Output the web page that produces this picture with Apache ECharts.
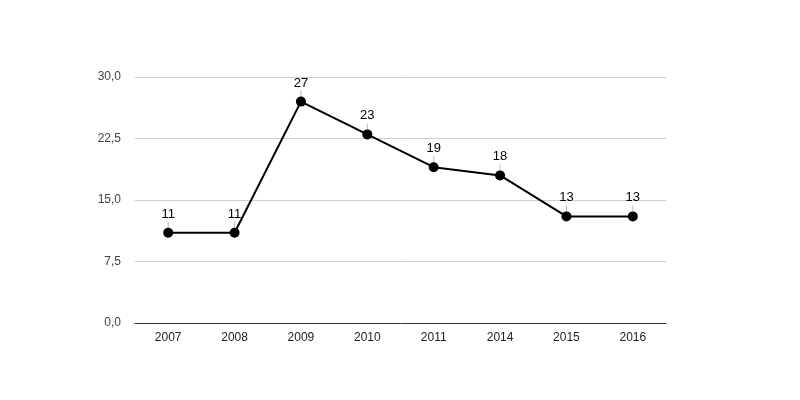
<!DOCTYPE html>
<html><head><meta charset="utf-8">
<script src="https://cdn.jsdelivr.net/npm/echarts@6/dist/echarts.min.js"></script>
<style>html,body{margin:0;padding:0;background:#fff}#c{width:800px;height:400px}</style>
</head><body><div id="c"></div>
<script>
const categories = ['2007','2008','2009','2010','2011','2014','2015','2016'];
const values = [11, 11, 27, 23, 19, 18, 13, 13];
const chart = echarts.init(document.getElementById('c'));
chart.setOption({
  animation: false,
  grid: {left: 135, right: 134, top: 77, bottom: 77},
  xAxis: {
    type: 'category', data: categories, boundaryGap: true,
    axisLine: {lineStyle: {color: '#333', width: 1}},
    axisTick: {show: false},
    axisLabel: {color: '#222', fontSize: 12, fontFamily: '"Liberation Sans", Arial, sans-serif', margin: 9}
  },
  yAxis: {
    type: 'value', min: 0, max: 30, interval: 7.5,
    axisLine: {show: false}, axisTick: {show: false},
    splitLine: {lineStyle: {color: '#cccccc'}},
    axisLabel: {color: '#444', fontSize: 12, fontFamily: '"Liberation Sans", Arial, sans-serif', margin: 14,
      formatter: v => v.toFixed(1).replace('.', ',')}
  },
  series: [
    {
      type: 'scatter', data: values, symbol: 'rect', symbolSize: [1, 6], symbolOffset: [0, -8],
      itemStyle: {color: '#aaaaaa'}, z: 1, silent: true
    },
    {
      type: 'line', data: values, symbol: 'circle', symbolSize: 10, z: 3,
      lineStyle: {color: '#000', width: 2},
      itemStyle: {color: '#000'},
      label: {show: true, position: 'top', distance: 7, color: '#000', fontSize: 13,
        fontFamily: '"Liberation Sans", Arial, sans-serif'}
    }
  ]
});
</script></body></html>
